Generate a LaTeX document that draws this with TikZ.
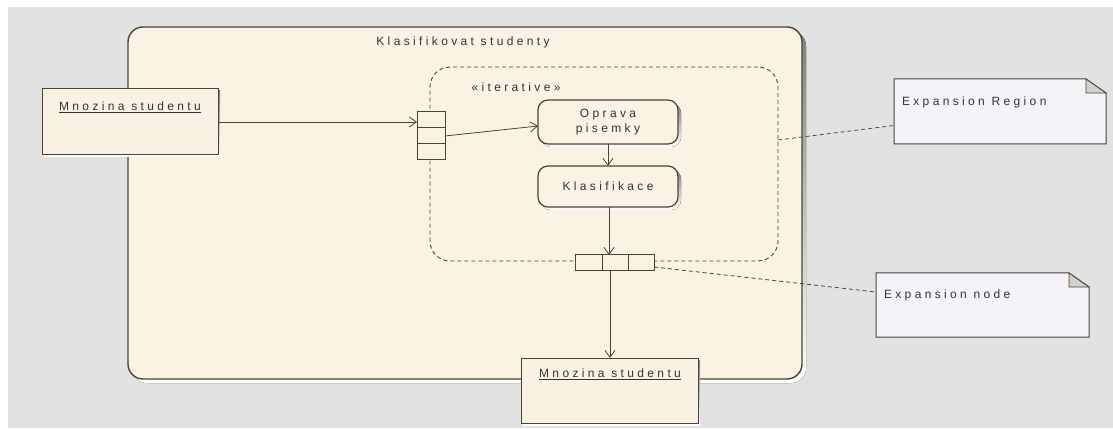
\documentclass[tikz,border=0pt]{standalone}
\usepackage{fontspec}
\setmainfont{Liberation Sans}[LetterSpace=28]
\usetikzlibrary{arrows.meta,calc}

\definecolor{canvas}{HTML}{E2E2E2}
\definecolor{cream}{HTML}{FAF3E3}
\definecolor{objfill}{HTML}{F9F2E2}
\definecolor{notefill}{HTML}{F5F3F8}
\definecolor{ink}{HTML}{4A4438}
\definecolor{shade}{HTML}{B4B0A8}

\tikzset{
  every node/.style={font=\fontsize{12}{14}\selectfont, text=black!80, inner sep=0pt, outer sep=0pt},
  box/.style={anchor=north west, draw=ink, line width=1pt},
  activity/.style={box, fill=cream, rounded corners=10pt, line width=1.2pt},
  objbox/.style={box, fill=objfill, line width=1pt},
  pincell/.style={box, fill=cream, line width=1pt},
  noteframe/.style={anchor=north west, minimum width=0pt},
  flow/.style={draw=ink, line width=0.8pt, -{Straight Barb[length=7pt,width=10pt,line width=0.8pt]}},
  notelink/.style={draw=ink, line width=0.8pt, dash pattern=on 4pt off 3pt},
}

\begin{document}
\begin{tikzpicture}[x=1pt, y=-1pt]
  % page and canvas
  \fill[white] (0,0) rectangle (1113,430);
  \useasboundingbox (0,0) rectangle (1113,430);
  \fill[canvas] (8,7) rectangle (1113,428);

  % activity frame with its shadow
  \fill[shade, rounded corners=15pt] (132,31) rectangle (806,383);
  \node[activity, rounded corners=15pt, minimum width=674pt, minimum height=352pt, line width=1.4pt] (act) at (128,27) {};
  \node (acttitle) at (463,42) {Klasifikovat studenty};

  % expansion region
  \node[anchor=north west, draw=ink, line width=0.9pt, dash pattern=on 4pt off 3pt, rounded corners=20pt,
        minimum width=348pt, minimum height=194pt] (region) at (430,67) {};
  \node (iter) at (516,87) {«iterative»};

  % actions inside the region
  \fill[shade, rounded corners=10pt] (541,103) rectangle (681,147);
  \node[activity, minimum width=140pt, minimum height=44pt] (opr) at (538,100) {};
  \node[align=center] (oprtxt) at (opr.center) {Oprava\\[1pt]pisemky};
  \fill[shade, rounded corners=10pt] (541,169) rectangle (681,210);
  \node[activity, minimum width=140pt, minimum height=41pt] (kla) at (538,166) {};
  \node (klatxt) at (kla.center) {Klasifikace};

  % input pins on the left edge of the region
  \node[pincell, minimum width=28pt, minimum height=16pt] (in1) at (417,112) {};
  \node[pincell, minimum width=28pt, minimum height=16pt] (in2) at (417,128) {};
  \node[pincell, minimum width=28pt, minimum height=16pt] (in3) at (417,144) {};

  % output pins on the bottom edge of the region
  \node[pincell, minimum width=27pt, minimum height=16pt] (out1) at (575,255) {};
  \node[pincell, minimum width=26pt, minimum height=16pt] (out2) at (602,255) {};
  \node[pincell, minimum width=26pt, minimum height=16pt] (out3) at (628,255) {};

  % object nodes
  \fill[shade] (44,91) rectangle (220,157);
  \node[objbox, minimum width=176pt, minimum height=66pt] (objin) at (42,89) {};
  \node (objintxt) at (130,107) {\underline{Mnozina studentu}};
  \fill[shade] (523,360) rectangle (700,425);
  \node[objbox, minimum width=177pt, minimum height=65pt] (objout) at (521,358) {};
  \node (objouttxt) at (610,374) {\underline{Mnozina studentu}};

  % notes with folded corner
  \node[noteframe, minimum width=212pt, minimum height=65pt] (noteA) at (894,79) {};
  \draw[draw=ink, line width=1pt, fill=notefill]
    (noteA.north west) -- ($(noteA.north east)+(-20,0)$) -- ($(noteA.north east)+(0,14)$)
    -- (noteA.south east) -- (noteA.south west) -- cycle;
  \draw[draw=ink, line width=0.8pt, fill=shade!60]
    ($(noteA.north east)+(-20,0)$) -- ($(noteA.north east)+(-20,14)$) -- ($(noteA.north east)+(0,14)$) -- cycle;
  \node[anchor=west] (noteAtxt) at (902,102) {Expansion Region};

  \node[noteframe, minimum width=213pt, minimum height=64pt] (noteB) at (876,273) {};
  \draw[draw=ink, line width=1pt, fill=notefill]
    (noteB.north west) -- ($(noteB.north east)+(-20,0)$) -- ($(noteB.north east)+(0,14)$)
    -- (noteB.south east) -- (noteB.south west) -- cycle;
  \draw[draw=ink, line width=0.8pt, fill=shade!60]
    ($(noteB.north east)+(-20,0)$) -- ($(noteB.north east)+(-20,14)$) -- ($(noteB.north east)+(0,14)$) -- cycle;
  \node[anchor=west] (noteBtxt) at (884,295) {Expansion node};

  % object flow
  \draw[flow] (objin.east |- 0,122) -- (in1.west |- 0,122);
  \draw[flow] (in2.east) -- ($(opr.west)+(0,4)$);
  \draw[flow] (opr.south) -- (kla.north);
  \draw[flow] (kla.south -| 609,0) -- (out2.north -| 609,0);
  \draw[flow] (out2.south -| 610,0) -- (objout.north -| 610,0);

  % note anchors
  \draw[notelink] ($(region.east)+(0,-24)$) -- ($(noteA.west)+(0,14)$);
  \draw[notelink] ($(out3.east)+(0,4)$) -- ($(noteB.west)+(0,-13)$);
\end{tikzpicture}
\end{document}
